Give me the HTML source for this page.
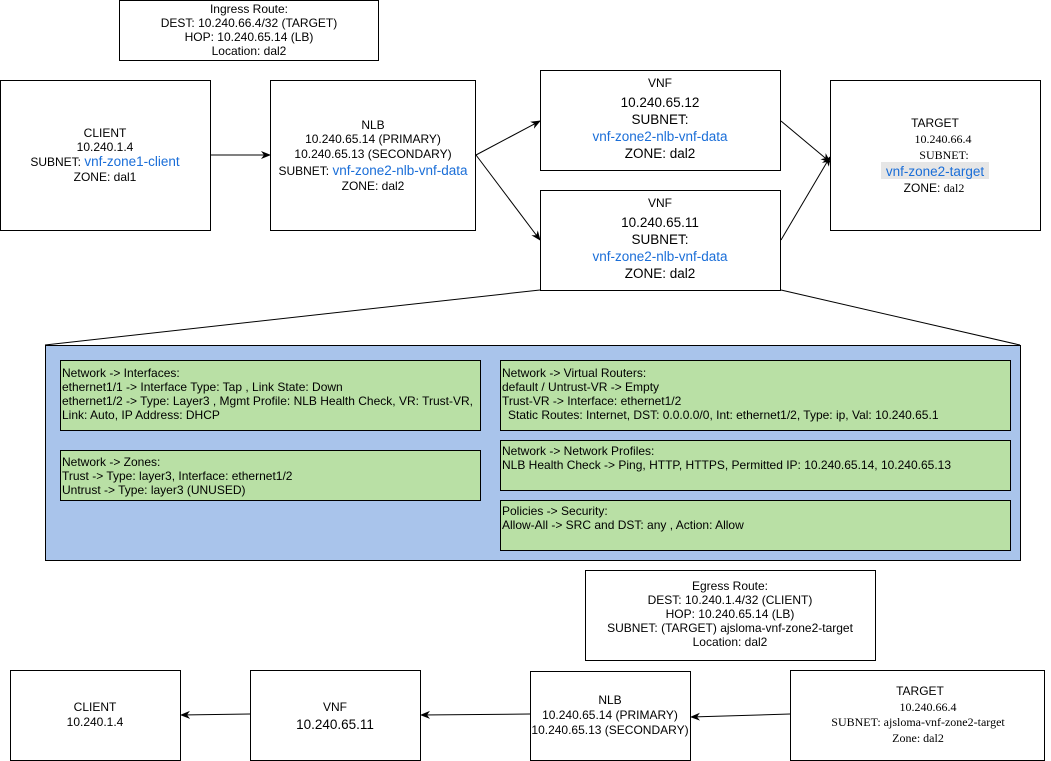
<!DOCTYPE html>
<html><head><meta charset="utf-8"><style>
body{margin:0;background:#fff}
svg{display:block}
text{font-family:"Liberation Sans",Arial,sans-serif;font-size:12px;fill:#000}
.s{font-family:"Liberation Serif",serif}
.b{fill:#1a6ed8}
.L{font-size:13.5px}
text.p{font-size:12px}
</style></head><body>
<svg width="1051" height="761" viewBox="0 0 1051 761" xmlns="http://www.w3.org/2000/svg">
<defs><marker id="a" markerWidth="10" markerHeight="10" refX="9" refY="5" orient="auto" markerUnits="userSpaceOnUse"><path d="M0,1 L10,5 L0,9 L3,5 Z" fill="#000"/></marker></defs>
<g fill="#fff" stroke="#000" stroke-width="1">
<rect x="119.5" y="0.5" width="259" height="60"/>
<rect x="0.5" y="80.5" width="210" height="150"/>
<rect x="270.5" y="80.5" width="205" height="150"/>
<rect x="540.5" y="70.5" width="240" height="100"/>
<rect x="540.5" y="190.5" width="240" height="100"/>
<rect x="830.5" y="80.5" width="210" height="150"/>
<rect x="585.5" y="570.5" width="290" height="90"/>
<rect x="10.5" y="670.5" width="170" height="90"/>
<rect x="250.5" y="670.5" width="170" height="90"/>
<rect x="530.5" y="671.5" width="160" height="89"/>
<rect x="790.5" y="670.5" width="254" height="90"/>
</g>
<g stroke="#000" fill="none">
<line x1="211" y1="155" x2="270" y2="155" marker-end="url(#a)"/>
<line x1="476" y1="155" x2="540" y2="121" marker-end="url(#a)"/>
<line x1="476" y1="155" x2="540" y2="240" marker-end="url(#a)"/>
<line x1="781" y1="121" x2="830" y2="162" marker-end="url(#a)"/>
<line x1="781" y1="240" x2="830" y2="157" marker-end="url(#a)"/>
<line x1="540" y1="290" x2="45" y2="345"/>
<line x1="781" y1="290" x2="1020" y2="345"/>
<line x1="250" y1="714" x2="181" y2="715" marker-end="url(#a)"/>
<line x1="530" y1="714" x2="421" y2="715" marker-end="url(#a)"/>
<line x1="790" y1="714" x2="691" y2="717" marker-end="url(#a)"/>
</g>
<rect x="45.5" y="345.5" width="975" height="215" fill="#a9c4eb" stroke="#000"/>
<g fill="#b9e0a5" stroke="#000">
<rect x="60.5" y="360.5" width="420" height="70"/>
<rect x="60.5" y="450.5" width="420" height="50"/>
<rect x="500.5" y="360.5" width="510" height="70"/>
<rect x="500.5" y="440.5" width="510" height="50"/>
<rect x="500.5" y="500.5" width="510" height="50"/>
</g>
<g text-anchor="middle">
<text x="249" y="13">Ingress Route:</text>
<text x="249" y="27">DEST: 10.240.66.4/32 (TARGET)</text>
<text x="249" y="41">HOP: 10.240.65.14 (LB)</text>
<text x="249" y="55">Location: dal2</text>
<text x="105" y="137">CLIENT</text>
<text x="105" y="151">10.240.1.4</text>
<text x="105" y="166">SUBNET: <tspan class="b L">vnf-zone1-client</tspan></text>
<text x="105" y="181">ZONE: dal1</text>
<text x="373" y="129">NLB</text>
<text x="373" y="143">10.240.65.14 (PRIMARY)</text>
<text x="373" y="158">10.240.65.13 (SECONDARY)</text>
<text x="373" y="175">SUBNET: <tspan class="b L">vnf-zone2-nlb-vnf-data</tspan></text>
<text x="373" y="190">ZONE: dal2</text>
<text x="660" y="87">VNF</text>
<text x="660" y="107" class="L">10.240.65.12</text>
<text x="660" y="124" class="L">SUBNET:</text>
<text x="660" y="141" class="L b">vnf-zone2-nlb-vnf-data</text>
<text x="660" y="158" class="L">ZONE: dal2</text>
<text x="660" y="207">VNF</text>
<text x="660" y="227" class="L">10.240.65.11</text>
<text x="660" y="244" class="L">SUBNET:</text>
<text x="660" y="261" class="L b">vnf-zone2-nlb-vnf-data</text>
<text x="660" y="278" class="L">ZONE: dal2</text>
<text x="935" y="127">TARGET</text>
<text x="943" y="143" class="s">10.240.66.4</text>
<text x="944" y="159" class="s">SUBNET:</text>
<rect x="881" y="162" width="108" height="17" fill="#e6e6e6"/>
<text x="935" y="176" class="L b">vnf-zone2-target</text>
<text x="934" y="192">ZONE: <tspan class="s">dal2</tspan></text>
<text x="730" y="590">Egress Route:</text>
<text x="730" y="604">DEST: 10.240.1.4/32 (CLIENT)</text>
<text x="730" y="618">HOP: 10.240.65.14 (LB)</text>
<text x="730" y="632">SUBNET: (TARGET) ajsloma-vnf-zone2-target</text>
<text x="730" y="646">Location: dal2</text>
<text x="95" y="711">CLIENT</text>
<text x="95" y="726">10.240.1.4</text>
<text x="335" y="711">VNF</text>
<text x="335" y="729" class="L">10.240.65.11</text>
<text x="610" y="704">NLB</text>
<text x="610" y="719">10.240.65.14 (PRIMARY)</text>
<text x="610" y="734">10.240.65.13 (SECONDARY)</text>
<text x="920" y="695">TARGET</text>
<text x="928" y="711" class="s">10.240.66.4</text>
<text x="918" y="726" class="s">SUBNET: ajsloma-vnf-zone2-target</text>
<text x="918" y="742" class="s">Zone: dal2</text>
</g>
<g>
<text class="p" x="62" y="377">Network -&gt; Interfaces:</text>
<text class="p" x="62" y="391">ethernet1/1 -&gt; Interface Type: Tap , Link State: Down</text>
<text class="p" x="62" y="405">ethernet1/2 -&gt; Type: Layer3 , Mgmt Profile: NLB Health Check, VR: Trust-VR,</text>
<text class="p" x="62" y="419">Link: Auto, IP Address: DHCP</text>
<text class="p" x="62" y="466">Network -&gt; Zones:</text>
<text class="p" x="62" y="480">Trust -&gt; Type: layer3, Interface: ethernet1/2</text>
<text class="p" x="62" y="494">Untrust -&gt; Type: layer3 (UNUSED)</text>
<text class="p" x="502" y="377">Network -&gt; Virtual Routers:</text>
<text class="p" x="502" y="391">default / Untrust-VR -&gt; Empty</text>
<text class="p" x="502" y="405">Trust-VR -&gt; Interface: ethernet1/2</text>
<text class="p" x="508" y="419">Static Routes: Internet, DST: 0.0.0.0/0, Int: ethernet1/2, Type: ip, Val: 10.240.65.1</text>
<text class="p" x="502" y="455">Network -&gt; Network Profiles:</text>
<text class="p" x="502" y="469">NLB Health Check -&gt; Ping, HTTP, HTTPS, Permitted IP: 10.240.65.14, 10.240.65.13</text>
<text class="p" x="502" y="515">Policies -&gt; Security:</text>
<text class="p" x="502" y="529">Allow-All -&gt; SRC and DST: any , Action: Allow</text>
</g>
</svg>
</body></html>
